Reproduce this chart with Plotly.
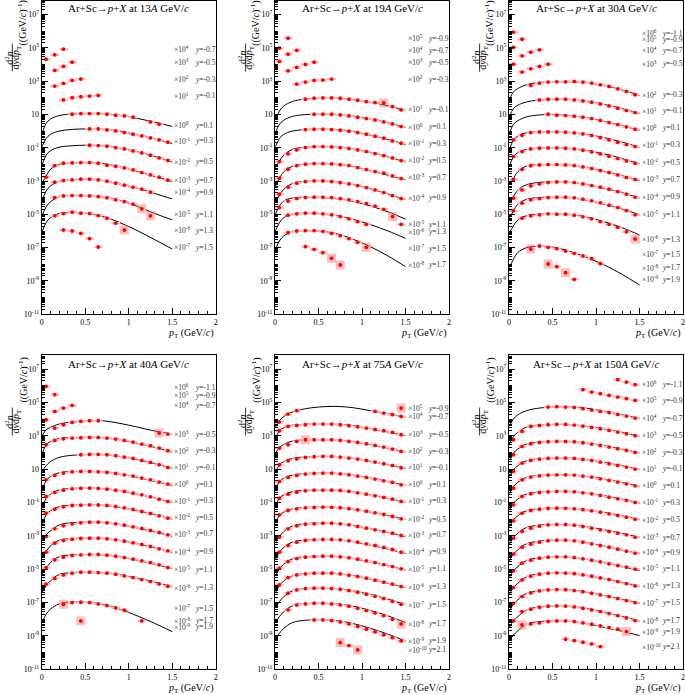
import plotly.graph_objects as go

# ---------------- data (values are log10 of the plotted, scaled yield) ----------------
B = [0.05, 0.15, 0.25, 0.35, 0.45, 0.55, 0.65, 0.75, 0.85, 0.95, 1.05, 1.15, 1.25, 1.35, 1.45]
FIT_PT = [0.005, 0.05, 0.1, 0.2, 0.35, 0.5, 0.7, 0.9, 1.1, 1.3, 1.5]

# ---- 13A GeV/c
RAP_13 = ["-0.7", "-0.5", "-0.3", "-0.1", "0.1", "0.3", "0.5", "0.7", "0.9", "1.1", "1.3", "1.5"]
SCALE_13 = [4, 3, 2, 1, 0, -1, -2, -3, -4, -5, -6, -7]
PT_13 = [B[0:3], B[1:4], B[1:5], B[2:7], B[3:11] + B[12:14], B[5:15], B[5:15], B[0:15],
         B[1:13], B[1:13], B[1:10], B[2:7]]
LOGY_13 = [
    [4.32, 4.58, 4.92],
    [3.64, 3.88, 4.14],
    [2.70, 2.86, 3.04, 3.12],
    [1.87, 2.00, 2.06, 2.10, 2.14],
    [1.01, 1.05, 1.05, 1.05, 1.01, 0.95, 0.91, 0.83, 0.55, 0.41],
    [0.13, 0.13, 0.07, 0.01, -0.09, -0.19, -0.29, -0.41, -0.53, -0.67],
    [-0.85, -0.87, -0.91, -0.99, -1.07, -1.19, -1.31, -1.45, -1.61, -1.76],
    [-2.77, -2.07, -1.93, -1.91, -1.89, -1.89, -1.93, -2.05, -2.11, -2.21, -2.33, -2.49, -2.63, -2.77, -2.95],
    [-3.07, -2.97, -2.93, -2.89, -2.89, -2.93, -3.01, -3.13, -3.25, -3.37, -3.49, -3.67],
    [-3.99, -3.89, -3.87, -3.87, -3.89, -3.93, -4.01, -4.13, -4.23, -4.39, -4.67, -5.09],
    [-5.09, -4.95, -4.87, -4.93, -4.95, -5.07, -5.23, -5.53, -5.94],
    [-5.94, -6.00, -6.14, -6.46, -6.96],
]
FIT_13 = [None, None, None, None,
          [-0.13, 0.45, 0.72, 0.93, 1.03, 1.06, 1.04, 0.94, 0.76, 0.53, 0.28],
          [-0.93, -0.45, -0.2, 0.0, 0.1, 0.13, 0.11, 0.0, -0.23, -0.47, -0.75],
          [-2.03, -1.45, -1.18, -0.97, -0.88, -0.85, -0.88, -1.02, -1.24, -1.52, -1.86],
          [-3.1, -2.72, -2.3, -2.0, -1.91, -1.89, -1.95, -2.15, -2.42, -2.72, -3.03],
          [-4.2, -3.6, -3.3, -3.02, -2.92, -2.89, -2.96, -3.18, -3.43, -3.75, -4.07],
          [-5.1, -4.55, -4.25, -3.95, -3.87, -3.87, -3.97, -4.17, -4.52, -4.95, -5.33],
          [-6.04, -5.5, -5.2, -4.95, -4.88, -4.92, -5.12, -5.5, -5.98, -6.52, -7.08],
          None]
LABY_13 = [4.92, 4.14, 3.10, 2.11, 0.35, -0.59, -1.83, -2.95, -3.67, -4.99, -5.94, -6.98]
BOX_13 = [(9, 1.15), (9, 1.25), (10, 0.95)]

# ---- 19A GeV/c
RAP_19 = ["-0.9", "-0.7", "-0.5", "-0.3", "-0.1", "0.1", "0.3", "0.5", "0.7", "0.9", "1.1", "1.3", "1.5", "1.7"]
SCALE_19 = [5, 4, 3, 2, 1, 0, -1, -2, -3, -4, -5, -6, -7, -8]
PT_19 = [B[0:2], B[0:3], B[1:5], B[2:7], B[3:15], B[4:15], B[3:15], B[0:15], B[0:15], B[0:15],
         B[0:15], B[1:11], B[1:11], B[3:8]]
LOGY_19 = [
    [4.98, 5.58],
    [4.18, 4.62, 4.84],
    [3.62, 3.82, 4.00, 4.14],
    [2.82, 2.94, 3.04, 3.06, 3.12],
    [1.91, 1.97, 1.99, 1.99, 1.97, 1.91, 1.85, 1.77, 1.71, 1.69, 1.47, 1.27],
    [1.01, 1.01, 1.01, 0.97, 0.91, 0.83, 0.75, 0.67, 0.55, 0.43, 0.27],
    [0.09, 0.11, 0.11, 0.09, 0.05, -0.01, -0.09, -0.19, -0.31, -0.43, -0.59, -0.73],
    [-1.83, -1.37, -1.13, -0.99, -0.93, -0.93, -0.95, -0.99, -1.05, -1.13, -1.23, -1.35, -1.47, -1.61, -1.77],
    [-2.83, -2.29, -2.07, -1.99, -1.95, -1.95, -1.97, -2.01, -2.07, -2.19, -2.31, -2.43, -2.53, -2.69, -2.85],
    [-3.79, -3.37, -3.13, -3.03, -2.99, -2.99, -3.03, -3.09, -3.17, -3.27, -3.39, -3.53, -3.69, -3.87, -4.05],
    [-4.60, -4.20, -4.05, -3.99, -3.97, -3.97, -3.99, -4.05, -4.13, -4.23, -4.35, -4.50, -4.70, -5.13, -5.60],
    [-5.05, -4.97, -4.93, -4.93, -4.97, -5.03, -5.13, -5.27, -5.43, -5.60],
    [-6.10, -6.00, -5.98, -5.98, -6.02, -6.14, -6.28, -6.46, -6.68, -6.98],
    [-6.94, -7.10, -7.30, -7.64, -8.04],
]
FIT_19 = [None, None, None, None,
          [0.65, 1.2, 1.5, 1.78, 1.93, 1.98, 1.98, 1.88, 1.73, 1.52, 1.24],
          [-0.1, 0.4, 0.65, 0.88, 0.99, 1.01, 1.0, 0.9, 0.72, 0.5, 0.22],
          [-0.93, -0.45, -0.2, 0.0, 0.09, 0.11, 0.09, -0.02, -0.25, -0.5, -0.8],
          [-2.2, -1.8, -1.45, -1.1, -0.97, -0.93, -0.96, -1.08, -1.3, -1.55, -1.85],
          [-3.3, -2.85, -2.45, -2.12, -1.99, -1.95, -1.99, -2.14, -2.4, -2.65, -2.93],
          [-4.3, -3.85, -3.5, -3.15, -3.02, -2.99, -3.05, -3.22, -3.47, -3.78, -4.12],
          [-5.0, -4.5, -4.2, -4.02, -3.97, -3.98, -4.06, -4.22, -4.5, -4.85, -5.29],
          [-6.0, -5.5, -5.2, -4.98, -4.93, -4.95, -5.05, -5.3, -5.62, -6.0, -6.44],
          [-7.1, -6.6, -6.3, -6.05, -5.98, -6.0, -6.15, -6.5, -6.95, -7.5, -8.14],
          None]
LABY_19 = [5.58, 4.84, 4.14, 3.12, 1.31, 0.27, -0.73, -1.75, -2.77, -4.01, -5.58, -6.04, -7.04, -8.04]
BOX_19 = [(4, 1.25), (10, 1.35), (12, 1.05), (13, 0.65), (13, 0.75)]

# ---- 30A GeV/c
RAP_30 = ["-1.1", "-0.9", "-0.7", "-0.5", "-0.3", "-0.1", "0.1", "0.3", "0.5", "0.7", "0.9", "1.1",
          "1.3", "1.5", "1.7", "1.9"]
SCALE_30 = [6, 5, 4, 3, 2, 1, 0, -1, -2, -3, -4, -5, -6, -7, -8, -9]
PT_30 = [B[0:1], B[0:2], B[0:4], B[1:5], B[2:15], B[3:15], B[4:15], B[0:15], B[0:15], B[0:15],
         B[0:15], B[0:15], B[1:15], B[2:11], B[4:7], B[7:8]]
LOGY_30 = [
    [5.94],
    [5.02, 5.52],
    [4.02, 4.52, 4.74, 4.88],
    [3.54, 3.74, 3.88, 4.02],
    [2.74, 2.88, 2.94, 2.96, 2.96, 2.98, 2.94, 2.88, 2.78, 2.68, 2.54, 2.38, 2.18],
    [1.87, 1.91, 1.91, 1.91, 1.87, 1.81, 1.73, 1.63, 1.51, 1.37, 1.23, 1.11],
    [1.01, 0.95, 0.93, 0.89, 0.83, 0.75, 0.63, 0.51, 0.39, 0.25, 0.11],
    [-0.53, -0.25, -0.09, -0.05, -0.05, -0.05, -0.07, -0.11, -0.17, -0.27, -0.39, -0.53, -0.67, -0.81, -0.93],
    [-1.53, -1.23, -1.07, -1.03, -1.01, -1.01, -1.03, -1.07, -1.15, -1.25, -1.37, -1.51, -1.65, -1.79, -1.93],
    [-2.90, -2.30, -2.08, -2.03, -2.01, -2.01, -2.03, -2.07, -2.15, -2.25, -2.37, -2.49, -2.63, -2.78, -2.90],
    [-4.03, -3.53, -3.29, -3.17, -3.09, -3.05, -3.05, -3.09, -3.17, -3.27, -3.37, -3.49, -3.63, -3.79, -3.97],
    [-4.79, -4.33, -4.13, -4.05, -3.99, -3.97, -3.97, -4.01, -4.09, -4.19, -4.31, -4.45, -4.59, -4.77, -5.03],
    [-5.23, -5.09, -5.03, -4.97, -4.99, -4.99, -5.05, -5.15, -5.27, -5.43, -5.60, -5.78, -6.05, -6.48],
    [-7.08, -6.90, -6.98, -7.06, -7.20, -7.34, -7.50, -7.66, -7.95],
    [-7.98, -8.14, -8.50],
    [-8.90],
]
FIT_30 = [None, None, None, None,
          [1.9, 2.35, 2.55, 2.78, 2.92, 2.96, 2.97, 2.9, 2.72, 2.47, 2.15],
          [0.85, 1.35, 1.55, 1.75, 1.87, 1.91, 1.9, 1.78, 1.6, 1.35, 1.05],
          [-0.15, 0.4, 0.62, 0.85, 0.97, 1.0, 0.93, 0.8, 0.58, 0.32, 0.05],
          [-1.1, -0.55, -0.3, -0.1, -0.05, -0.05, -0.09, -0.2, -0.4, -0.66, -0.97],
          [-2.1, -1.55, -1.3, -1.1, -1.02, -1.01, -1.04, -1.17, -1.38, -1.65, -1.97],
          [-3.2, -2.85, -2.45, -2.1, -2.02, -2.01, -2.04, -2.2, -2.43, -2.68, -2.97],
          [-4.3, -3.95, -3.55, -3.22, -3.08, -3.05, -3.08, -3.22, -3.45, -3.7, -4.02],
          [-5.2, -4.8, -4.4, -4.1, -3.99, -3.97, -4.0, -4.15, -4.4, -4.68, -5.02],
          [-6.1, -5.7, -5.35, -5.08, -4.99, -4.97, -5.0, -5.17, -5.45, -5.8, -6.24],
          [-8.2, -7.7, -7.3, -7.0, -6.92, -6.96, -7.22, -7.6, -8.05, -8.6, -9.24],
          None, None]
LABY_30 = [5.86, 5.52, 4.84, 4.04, 2.18, 1.21, 0.21, -0.83, -1.87, -2.89, -3.93, -4.99, -6.48, -7.40, -8.20, -8.90]
BOX_30 = [(12, 1.45), (13, 0.25), (14, 0.45), (14, 0.65)]

# ---- 40A GeV/c
RAP_40 = ["-1.1", "-0.9", "-0.7", "-0.5", "-0.3", "-0.1", "0.1", "0.3", "0.5", "0.7", "0.9", "1.1",
          "1.3", "1.5", "1.7", "1.9"]
SCALE_40 = [6, 5, 4, 3, 2, 1, 0, -1, -2, -3, -4, -5, -6, -7, -8, -9]
PT_40 = [B[0:1], B[1:2], B[0:4], B[1:7] + B[13:15], B[0:15], B[4:15], B[0:15], B[0:15], B[0:15],
         B[0:15], B[0:15], B[0:15], B[0:15], B[2:10] + B[11:12], B[4:5], []]
LOGY_40 = [
    [5.96],
    [5.46],
    [3.96, 4.46, 4.66, 4.82],
    [3.46, 3.66, 3.80, 3.86, 3.90, 3.90, 3.16, 3.10],
    [2.46, 2.72, 2.82, 2.86, 2.88, 2.90, 2.90, 2.86, 2.80, 2.72, 2.62, 2.50, 2.40, 2.26, 2.10],
    [1.86, 1.88, 1.88, 1.86, 1.80, 1.72, 1.64, 1.52, 1.40, 1.26, 1.10],
    [0.36, 0.62, 0.76, 0.84, 0.86, 0.86, 0.84, 0.80, 0.74, 0.66, 0.58, 0.46, 0.36, 0.22, 0.10],
    [-0.64, -0.40, -0.26, -0.18, -0.16, -0.14, -0.16, -0.20, -0.26, -0.34, -0.44, -0.54, -0.66, -0.80, -0.94],
    [-1.64, -1.40, -1.26, -1.18, -1.16, -1.14, -1.15, -1.18, -1.24, -1.32, -1.42, -1.54, -1.66, -1.80, -1.94],
    [-3.04, -2.58, -2.40, -2.28, -2.22, -2.18, -2.18, -2.22, -2.28, -2.36, -2.46, -2.56, -2.68, -2.80, -2.94],
    [-3.98, -3.44, -3.28, -3.20, -3.16, -3.14, -3.14, -3.18, -3.24, -3.32, -3.42, -3.52, -3.64, -3.78, -3.90],
    [-4.90, -4.44, -4.28, -4.18, -4.14, -4.12, -4.12, -4.16, -4.22, -4.30, -4.40, -4.50, -4.60, -4.74, -4.90],
    [-5.90, -5.55, -5.35, -5.24, -5.18, -5.18, -5.20, -5.24, -5.30, -5.40, -5.50, -5.62, -5.74, -5.88, -6.02],
    [-7.10, -7.00, -6.98, -7.00, -7.08, -7.18, -7.32, -7.46, -8.10],
    [-8.10],
    [],
]
FIT_40 = [None, None, None,
          [3.0, 3.35, 3.5, 3.7, 3.83, 3.89, 3.9, 3.74, 3.52, 3.28, 3.1],
          [1.9, 2.45, 2.65, 2.83, 2.89, 2.9, 2.89, 2.75, 2.55, 2.3, 2.02],
          [0.85, 1.2, 1.45, 1.7, 1.83, 1.87, 1.87, 1.76, 1.56, 1.32, 1.05],
          [-0.3, 0.3, 0.55, 0.78, 0.85, 0.86, 0.83, 0.7, 0.5, 0.27, 0.02],
          [-1.35, -0.75, -0.5, -0.25, -0.16, -0.14, -0.17, -0.3, -0.5, -0.73, -1.0],
          [-2.35, -1.75, -1.5, -1.25, -1.16, -1.14, -1.17, -1.3, -1.5, -1.74, -2.0],
          [-3.3, -2.95, -2.7, -2.35, -2.21, -2.18, -2.2, -2.32, -2.53, -2.77, -3.02],
          [-4.3, -3.95, -3.6, -3.27, -3.16, -3.14, -3.16, -3.28, -3.48, -3.72, -3.98],
          [-5.3, -4.95, -4.6, -4.25, -4.14, -4.12, -4.14, -4.26, -4.46, -4.7, -4.97],
          [-6.4, -6.0, -5.7, -5.32, -5.2, -5.18, -5.21, -5.33, -5.53, -5.77, -6.06],
          [-8.2, -7.7, -7.4, -7.08, -6.98, -6.98, -7.1, -7.4, -7.8, -8.25, -8.74],
          None, None]
LABY_40 = [5.92, 5.42, 4.82, 3.10, 2.10, 1.10, 0.10, -0.90, -1.90, -2.88, -3.94, -5.00, -6.10, -7.34, -8.10, -8.44]
BOX_40 = [(3, 1.35), (13, 0.25), (14, 0.45)]

# ---- 75A GeV/c
RAP_75 = ["-0.9", "-0.7", "-0.5", "-0.3", "-0.1", "0.1", "0.3", "0.5", "0.7", "0.9", "1.1", "1.3",
          "1.5", "1.7", "1.9", "2.1"]
SCALE_75 = [5, 4, 3, 2, 1, 0, -1, -2, -3, -4, -5, -6, -7, -8, -9, -10]
PT_75 = [B[14:15], B[0:3] + B[11:15], B[0:15], B[0:15], B[0:15], B[0:15], B[0:15], B[0:15], B[0:15],
         B[0:15], B[0:15], B[0:15], B[1:15], B[1:15], B[4:15], B[7:10]]
LOGY_75 = [
    [4.66],
    [3.82, 4.30, 4.50, 4.46, 4.36, 4.26, 4.16],
    [3.30, 3.56, 3.62, 3.66, 3.70, 3.70, 3.70, 3.66, 3.60, 3.54, 3.46, 3.38, 3.30, 3.20, 3.06],
    [2.26, 2.46, 2.66, 2.76, 2.76, 2.76, 2.76, 2.72, 2.66, 2.60, 2.52, 2.42, 2.32, 2.20, 2.06],
    [1.26, 1.50, 1.62, 1.70, 1.74, 1.76, 1.76, 1.72, 1.66, 1.60, 1.52, 1.42, 1.32, 1.22, 1.08],
    [0.26, 0.50, 0.62, 0.70, 0.74, 0.76, 0.76, 0.72, 0.66, 0.58, 0.50, 0.40, 0.30, 0.20, 0.06],
    [-0.74, -0.50, -0.38, -0.30, -0.26, -0.26, -0.26, -0.28, -0.34, -0.42, -0.50, -0.60, -0.70, -0.80, -0.94],
    [-1.74, -1.48, -1.38, -1.32, -1.30, -1.28, -1.29, -1.31, -1.37, -1.44, -1.52, -1.62, -1.72, -1.84, -1.98],
    [-3.08, -2.58, -2.40, -2.30, -2.28, -2.24, -2.24, -2.28, -2.34, -2.44, -2.54, -2.64, -2.74, -2.84, -2.98],
    [-3.98, -3.58, -3.38, -3.28, -3.24, -3.22, -3.22, -3.24, -3.30, -3.38, -3.48, -3.58, -3.70, -3.82, -3.98],
    [-4.94, -4.54, -4.36, -4.28, -4.24, -4.22, -4.22, -4.26, -4.32, -4.40, -4.50, -4.60, -4.72, -4.84, -4.98],
    [-5.94, -5.50, -5.34, -5.28, -5.24, -5.24, -5.24, -5.28, -5.36, -5.44, -5.54, -5.66, -5.78, -5.90, -6.04],
    [-6.44, -6.24, -6.16, -6.14, -6.14, -6.16, -6.20, -6.28, -6.38, -6.50, -6.62, -6.76, -6.92, -7.10],
    [-7.44, -7.14, -7.08, -7.04, -7.04, -7.08, -7.14, -7.22, -7.34, -7.48, -7.62, -7.78, -8.00, -8.28],
    [-8.04, -8.04, -8.08, -8.16, -8.28, -8.44, -8.60, -8.76, -8.94, -9.10, -9.30],
    [-9.40, -9.58, -9.84],
]
FIT_75 = [None,
          [3.5, 3.9, 4.15, 4.42, 4.62, 4.72, 4.76, 4.68, 4.5, 4.32, 4.12],
          [2.85, 3.3, 3.48, 3.63, 3.69, 3.7, 3.69, 3.6, 3.42, 3.22, 3.0],
          [1.95, 2.3, 2.48, 2.68, 2.75, 2.76, 2.74, 2.64, 2.46, 2.26, 2.02],
          [0.8, 1.25, 1.45, 1.64, 1.73, 1.76, 1.74, 1.64, 1.46, 1.26, 1.03],
          [-0.2, 0.25, 0.45, 0.64, 0.73, 0.76, 0.74, 0.64, 0.46, 0.26, 0.02],
          [-1.2, -0.75, -0.55, -0.35, -0.27, -0.26, -0.27, -0.37, -0.55, -0.75, -0.98],
          [-2.25, -1.78, -1.58, -1.38, -1.3, -1.28, -1.3, -1.4, -1.58, -1.78, -2.02],
          [-3.4, -3.05, -2.75, -2.42, -2.27, -2.24, -2.26, -2.38, -2.58, -2.8, -3.05],
          [-4.4, -4.0, -3.7, -3.38, -3.25, -3.22, -3.24, -3.36, -3.56, -3.8, -4.05],
          [-5.4, -5.0, -4.7, -4.38, -4.25, -4.22, -4.25, -4.37, -4.57, -4.8, -5.05],
          [-6.4, -6.0, -5.7, -5.4, -5.26, -5.24, -5.26, -5.38, -5.6, -5.85, -6.1],
          [-7.3, -6.95, -6.65, -6.3, -6.16, -6.14, -6.17, -6.3, -6.52, -6.8, -7.14],
          [-8.2, -7.85, -7.55, -7.2, -7.06, -7.04, -7.08, -7.22, -7.48, -7.8, -8.2],
          [-9.2, -8.85, -8.55, -8.2, -8.06, -8.04, -8.08, -8.26, -8.55, -8.9, -9.3],
          None]
LABY_75 = [4.66, 4.16, 3.10, 2.06, 1.10, 0.10, -0.90, -2.00, -2.94, -3.94, -4.98, -6.04, -7.14, -8.28, -9.30, -9.84]
BOX_75 = [(0, 1.45), (3, 0.35), (13, 1.45), (15, 0.75), (15, 0.95)]

# ---- 150A GeV/c
RAP_150 = ["-1.1", "-0.9", "-0.7", "-0.5", "-0.3", "-0.1", "0.1", "0.3", "0.5", "0.7", "0.9", "1.1",
           "1.3", "1.5", "1.7", "1.9", "2.1"]
SCALE_150 = [6, 5, 4, 3, 2, 1, 0, -1, -2, -3, -4, -5, -6, -7, -8, -9, -10]
PT_150 = [B[12:15], B[8:15], B[4:15], B[0:15], B[0:15], B[0:15], B[0:15], B[0:15], B[0:15], B[0:15],
          B[0:15], B[0:15], B[0:15], B[0:15], B[0:15], B[1:14], B[6:11]]
LOGY_150 = [
    [6.36, 6.22, 6.06],
    [5.76, 5.62, 5.52, 5.42, 5.32, 5.22, 5.12],
    [4.72, 4.74, 4.72, 4.70, 4.62, 4.54, 4.46, 4.38, 4.28, 4.18, 4.06],
    [2.76, 3.26, 3.56, 3.62, 3.66, 3.68, 3.68, 3.64, 3.58, 3.50, 3.42, 3.32, 3.22, 3.12, 3.00],
    [1.86, 2.36, 2.52, 2.60, 2.64, 2.66, 2.66, 2.64, 2.58, 2.50, 2.42, 2.32, 2.22, 2.12, 2.00],
    [0.86, 1.36, 1.52, 1.60, 1.64, 1.66, 1.66, 1.64, 1.58, 1.52, 1.42, 1.32, 1.22, 1.12, 1.00],
    [-0.14, 0.36, 0.52, 0.60, 0.64, 0.66, 0.66, 0.64, 0.58, 0.52, 0.42, 0.32, 0.22, 0.12, 0.00],
    [-1.14, -0.64, -0.48, -0.40, -0.36, -0.34, -0.34, -0.36, -0.42, -0.48, -0.58, -0.68, -0.78, -0.88, -1.00],
    [-2.10, -1.64, -1.48, -1.40, -1.36, -1.34, -1.35, -1.38, -1.43, -1.50, -1.58, -1.68, -1.78, -1.88, -2.00],
    [-3.14, -2.74, -2.54, -2.42, -2.34, -2.32, -2.32, -2.36, -2.44, -2.54, -2.64, -2.74, -2.84, -2.94, -3.08],
    [-4.10, -3.68, -3.50, -3.38, -3.30, -3.26, -3.26, -3.30, -3.38, -3.48, -3.58, -3.68, -3.80, -3.92, -4.04],
    [-5.10, -4.64, -4.46, -4.34, -4.28, -4.26, -4.26, -4.30, -4.38, -4.46, -4.56, -4.68, -4.78, -4.88, -5.00],
    [-6.10, -5.64, -5.42, -5.30, -5.24, -5.22, -5.23, -5.27, -5.34, -5.42, -5.52, -5.62, -5.74, -5.86, -6.00],
    [-7.05, -6.64, -6.42, -6.30, -6.24, -6.22, -6.23, -6.28, -6.35, -6.44, -6.54, -6.64, -6.76, -6.88, -7.00],
    [-8.10, -7.54, -7.40, -7.28, -7.22, -7.20, -7.21, -7.26, -7.34, -7.44, -7.54, -7.66, -7.78, -7.92, -8.08],
    [-8.34, -8.28, -8.22, -8.14, -8.10, -8.10, -8.14, -8.22, -8.30, -8.40, -8.50, -8.60, -8.74],
    [-9.20, -9.28, -9.38, -9.48, -9.64],
]
FIT_150 = [None, None,
           [3.6, 4.0, 4.25, 4.5, 4.66, 4.72, 4.73, 4.64, 4.46, 4.26, 4.03],
           [2.5, 2.95, 3.2, 3.52, 3.64, 3.67, 3.66, 3.56, 3.4, 3.2, 2.97],
           [1.55, 1.95, 2.2, 2.5, 2.62, 2.66, 2.65, 2.56, 2.4, 2.2, 1.97],
           [0.55, 0.95, 1.2, 1.5, 1.62, 1.66, 1.65, 1.56, 1.4, 1.2, 0.97],
           [-0.45, -0.05, 0.2, 0.5, 0.62, 0.66, 0.65, 0.56, 0.4, 0.2, -0.03],
           [-1.45, -1.05, -0.8, -0.5, -0.38, -0.34, -0.35, -0.44, -0.6, -0.8, -1.03],
           [-2.45, -2.05, -1.8, -1.5, -1.38, -1.34, -1.35, -1.45, -1.6, -1.8, -2.03],
           [-3.5, -3.1, -2.85, -2.5, -2.36, -2.32, -2.34, -2.46, -2.64, -2.85, -3.1],
           [-4.5, -4.1, -3.85, -3.48, -3.32, -3.26, -3.28, -3.42, -3.62, -3.85, -4.08],
           [-5.5, -5.1, -4.85, -4.48, -4.32, -4.26, -4.28, -4.42, -4.62, -4.85, -5.08],
           [-6.5, -6.1, -5.85, -5.46, -5.28, -5.22, -5.24, -5.38, -5.58, -5.8, -6.04],
           [-7.5, -7.1, -6.85, -6.46, -6.28, -6.22, -6.24, -6.38, -6.58, -6.8, -7.04],
           [-8.5, -8.1, -7.85, -7.45, -7.26, -7.2, -7.22, -7.36, -7.58, -7.82, -8.1],
           [-9.3, -8.95, -8.7, -8.3, -8.14, -8.1, -8.12, -8.27, -8.5, -8.72, -8.98],
           None]
LABY_150 = [6.10, 5.12, 4.06, 3.02, 2.02, 1.02, 0.02, -0.98, -2.04, -3.08, -3.98, -4.94, -6.00, -7.00, -8.08, -8.74, -9.64]
BOX_150 = [(15, 0.15), (15, 1.35)]

BEAMS = ["13", "19", "30", "40", "75", "150"]
PANELS = [
    (RAP_13, SCALE_13, PT_13, LOGY_13, FIT_13, LABY_13, BOX_13),
    (RAP_19, SCALE_19, PT_19, LOGY_19, FIT_19, LABY_19, BOX_19),
    (RAP_30, SCALE_30, PT_30, LOGY_30, FIT_30, LABY_30, BOX_30),
    (RAP_40, SCALE_40, PT_40, LOGY_40, FIT_40, LABY_40, BOX_40),
    (RAP_75, SCALE_75, PT_75, LOGY_75, FIT_75, LABY_75, BOX_75),
    (RAP_150, SCALE_150, PT_150, LOGY_150, FIT_150, LABY_150, BOX_150),
]

# ---------------- layout geometry (pixels) ----------------
W, H = 685, 695
COL_PX = [(41.7, 215.7), (275.0, 449.0), (509.0, 683.0)]
ROW_PX = [(0.5, 314.3), (355.0, 669.3)]
YLOG_RANGE = [-11, 7.84]
TITLE_Y = [8.5, 363.5]
XLAB_Y = [333.3, 688.3]
FRAC_Y = [57.5, 421.5]
PAREN_Y = [23.0, 380.0]

SERIF = "Liberation Serif, Times New Roman, serif"
RED = "#ff0000"
PINK = "#ffb8b8"
BOXCOL = "rgba(255,110,110,0.45)"


def fx(p):
    return p / W


def fy(p):
    return 1 - p / H


fig = go.Figure()
annotations = []
shapes = []
layout = {}

odd_exp = [e for e in range(-11, 8) if e % 2 != 0]
major_y = [10.0 ** e for e in odd_exp]
ytext = ["10" if e == 1 else "10<sup>%d</sup>" % e for e in odd_exp]
minor_y = [m * 10.0 ** e for e in range(-11, 8) for m in range(1, 10) if not (m == 1 and e % 2 != 0)]
minor_x = [k / 10 for k in range(21)]

for i, (rap, scale, pts, logy, fits, laby, boxes) in enumerate(PANELS):
    r, c = divmod(i, 3)
    xn = "x" if i == 0 else "x%d" % (i + 1)
    yn = "y" if i == 0 else "y%d" % (i + 1)
    xa = "xaxis" if i == 0 else "xaxis%d" % (i + 1)
    ya = "yaxis" if i == 0 else "yaxis%d" % (i + 1)
    x0, x1 = COL_PX[c]
    t0, t1 = ROW_PX[r]
    layout[xa] = dict(domain=[fx(x0), fx(x1)], anchor=yn, range=[0, 2], showgrid=False, zeroline=False,
                      automargin=False,
                      showline=True, mirror=True, linecolor="black", linewidth=1,
                      ticks="inside", ticklen=6, tickcolor="black",
                      tickvals=[0, 0.5, 1, 1.5, 2], ticktext=["0", "0.5", "1", "1.5", "2"],
                      tickfont=dict(family=SERIF, size=8, color="black"),
                      minor=dict(tickvals=minor_x, ticks="inside", ticklen=3, tickcolor="black"))
    layout[ya] = dict(domain=[fy(t1), fy(t0)], anchor=xn, type="log", range=YLOG_RANGE, showgrid=False,
                      zeroline=False, automargin=False,
                      showline=True, mirror=True, linecolor="black", linewidth=1,
                      ticks="inside", ticklen=6, tickcolor="black",
                      tickvals=major_y, ticktext=ytext,
                      tickfont=dict(family=SERIF, size=8, color="black"),
                      minor=dict(tickvals=minor_y, ticks="inside", ticklen=3, tickcolor="black"))

    # fit curves first
    for k in range(len(rap)):
        if fits[k] is not None:
            fig.add_trace(go.Scatter(x=FIT_PT, y=[10 ** v for v in fits[k]], mode="lines",
                                     line=dict(color="black", width=1, shape="spline", smoothing=1.0),
                                     xaxis=xn, yaxis=yn, hoverinfo="skip", showlegend=False))
    # big systematic boxes
    bx, by = [], []
    for (k, p) in boxes:
        for pp, vv in zip(pts[k], logy[k]):
            if abs(pp - p) < 1e-6:
                bx.append(pp)
                by.append(10 ** vv)
    if bx:
        fig.add_trace(go.Scatter(x=bx, y=by, mode="markers",
                                 marker=dict(symbol="square", size=9, color=BOXCOL, line=dict(width=0)),
                                 xaxis=xn, yaxis=yn, hoverinfo="skip", showlegend=False))
    # data points
    for k in range(len(rap)):
        if len(pts[k]) == 0:
            continue
        fig.add_trace(go.Scatter(x=pts[k], y=[10 ** v for v in logy[k]], mode="markers",
                                 marker=dict(symbol="circle", size=3.8, color=RED, line=dict(width=0)),
                                 error_x=dict(type="constant", value=0.05, color=PINK, thickness=2.2, width=0),
                                 xaxis=xn, yaxis=yn, hoverinfo="skip", showlegend=False))
    # labels
    for k in range(len(rap)):
        annotations.append(dict(x=1.5, y=laby[k], xref=xn, yref=yn, xanchor="left", yanchor="middle",
                                text="×10<sup>%d</sup>" % scale[k], showarrow=False,
                                font=dict(family=SERIF, size=7.5, color="#333333")))
        annotations.append(dict(x=1.74, y=laby[k], xref=xn, yref=yn, xanchor="left", yanchor="middle",
                                text="<i>y</i>=%s" % rap[k], showarrow=False,
                                font=dict(family=SERIF, size=7.5, color="#333333")))
    # title
    annotations.append(dict(x=1.0, xref=xn, y=fy(TITLE_Y[r]), yref="paper", xanchor="center",
                            yanchor="middle", showarrow=False,
                            text="Ar+Sc→<i>p</i>+<i>X</i> at %s<i>A</i> GeV/<i>c</i>" % BEAMS[i],
                            font=dict(family=SERIF, size=11, color="black")))
    # x title
    annotations.append(dict(x=fx(x1), xref="paper", y=fy(XLAB_Y[r]), yref="paper", xanchor="right",
                            yanchor="middle", showarrow=False,
                            text="<i>p</i><sub>T</sub> (GeV/<i>c</i>)",
                            font=dict(family=SERIF, size=10, color="black")))
    # y title as a rotated fraction
    base = x0 - 41.7
    annotations.append(dict(x=fx(base + 8.3), xref="paper", y=fy(FRAC_Y[r]), yref="paper",
                            xanchor="center", yanchor="middle", showarrow=False, textangle=-90,
                            text="d<sup>2</sup><i>n</i>", font=dict(family=SERIF, size=10, color="black")))
    annotations.append(dict(x=fx(base + 16.0), xref="paper", y=fy(FRAC_Y[r]), yref="paper",
                            xanchor="center", yanchor="middle", showarrow=False, textangle=-90,
                            text="d<i>y</i>d<i>p</i><sub>T</sub>",
                            font=dict(family=SERIF, size=10, color="black")))
    shapes.append(dict(type="line", xref="paper", yref="paper", x0=fx(base + 12.3), x1=fx(base + 12.3),
                       y0=fy(FRAC_Y[r] - 14), y1=fy(FRAC_Y[r] + 14), line=dict(color="black", width=0.8)))
    annotations.append(dict(x=fx(base + 22.5), xref="paper", y=fy(PAREN_Y[r]), yref="paper",
                            xanchor="center", yanchor="middle", showarrow=False, textangle=-90,
                            text="((GeV/<i>c</i>)<sup>-1</sup>)",
                            font=dict(family=SERIF, size=10, color="black")))

fig.update_layout(width=W, height=H, margin=dict(l=0, r=0, t=0, b=0), paper_bgcolor="white",
                  plot_bgcolor="white", showlegend=False, annotations=annotations, shapes=shapes, **layout)
fig.write_html("out.html", config={"displayModeBar": False, "staticPlot": True},
               post_script="document.body.style.margin='0';document.body.style.padding='0';"
                           "document.body.style.overflow='hidden';")
